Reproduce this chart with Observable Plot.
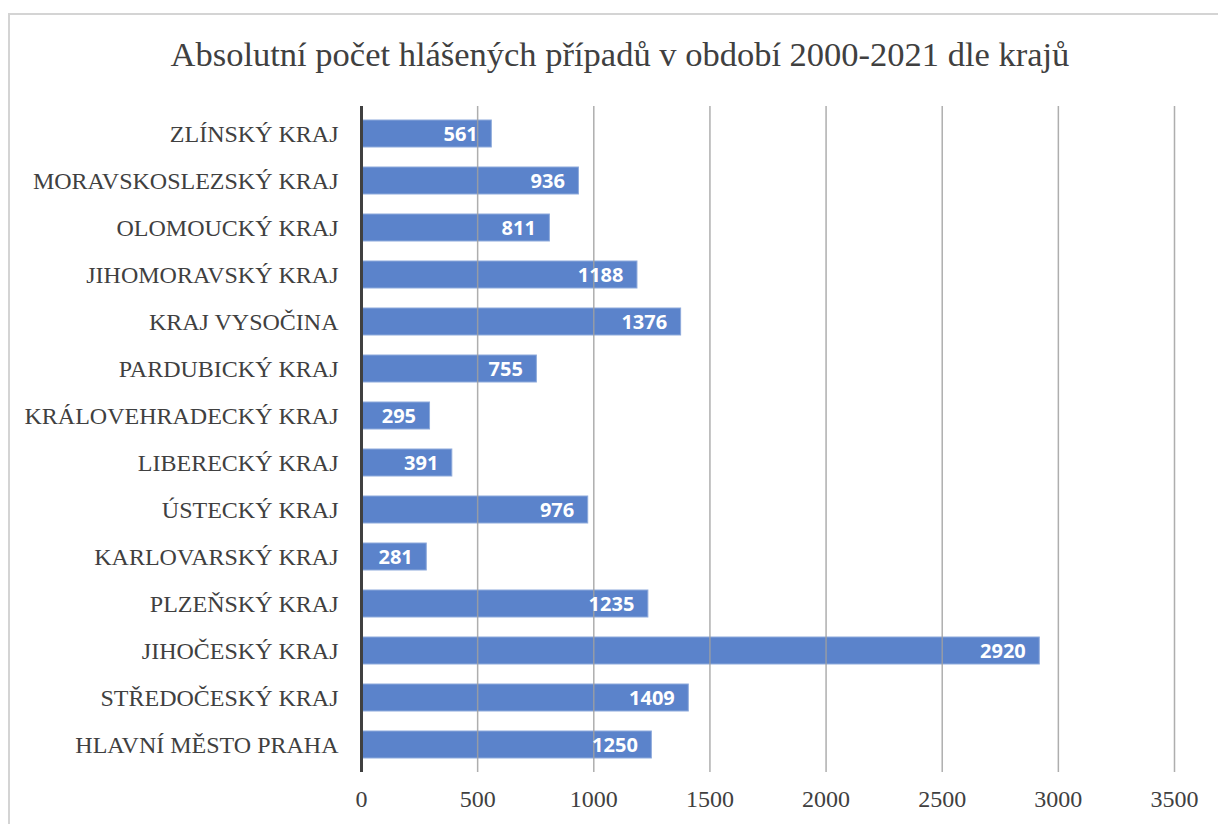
<!DOCTYPE html>
<html>
<head>
<meta charset="utf-8">
<script src="https://cdn.jsdelivr.net/npm/d3@7"></script>
<script src="https://cdn.jsdelivr.net/npm/@observablehq/plot@0.6"></script>
<style>
  html, body { margin: 0; padding: 0; background: #fff; }
  #wrap { position: relative; width: 1218px; height: 824px; overflow: hidden; }
  #frame { position: absolute; left: 8px; top: 13px; width: 1230px; height: 830px;
           border-left: 2px solid #d4d4d4; border-top: 2px solid #d4d4d4; box-sizing: border-box; }
  #title { position: absolute; left: 0; width: 1240px; top: 35px; text-align: center;
           font-family: "Liberation Serif", serif; font-size: 34.5px; color: #404040; }
  #chart { position: absolute; left: 0; top: 0; }
</style>
</head>
<body>
<div id="wrap">
  <div id="frame"></div>
  <div id="chart"></div>
  <div id="title">Absolutní počet hlášených případů v období 2000-2021 dle krajů</div>
</div>
<script>
const regions = [
  "ZLÍNSKÝ KRAJ",
  "MORAVSKOSLEZSKÝ KRAJ",
  "OLOMOUCKÝ KRAJ",
  "JIHOMORAVSKÝ KRAJ",
  "KRAJ VYSOČINA",
  "PARDUBICKÝ KRAJ",
  "KRÁLOVEHRADECKÝ KRAJ",
  "LIBERECKÝ KRAJ",
  "ÚSTECKÝ KRAJ",
  "KARLOVARSKÝ KRAJ",
  "PLZEŇSKÝ KRAJ",
  "JIHOČESKÝ KRAJ",
  "STŘEDOČESKÝ KRAJ",
  "HLAVNÍ MĚSTO PRAHA"
];
const cases = [561, 936, 811, 1188, 1376, 755, 295, 391, 976, 281, 1235, 2920, 1409, 1250];
const xTicks = [0, 500, 1000, 1500, 2000, 2500, 3000, 3500];

const data = regions.map((r, i) => ({region: r, value: cases[i]}));

const chart = Plot.plot({
  width: 1218,
  height: 824,
  marginLeft: 361,
  marginRight: 44,
  marginTop: 106,
  marginBottom: 52,
  style: {fontFamily: "'Liberation Serif', serif", color: "#404040", background: "transparent"},
  x: {domain: [0, 3500], ticks: xTicks, label: null},
  y: {domain: regions, paddingInner: 0.42, paddingOuter: 0.21, label: null},
  marks: [
    Plot.barX(data, {x: "value", y: "region", fill: "#4472C4", fillOpacity: 0.88, stroke: "#8eaadb", strokeWidth: 1}),
    Plot.gridX(xTicks.filter(d => d > 0), {stroke: "#a0a0a0", strokeOpacity: 0.85, strokeWidth: 1.5}),
    Plot.ruleX([0], {stroke: "#404040", strokeWidth: 3}),
    Plot.text(data, {x: "value", y: "region", text: d => String(d.value), textAnchor: "end", dx: -14, dy: 1,
      fill: "white", fontWeight: "bold", fontFamily: "'Open Sans', sans-serif", fontSize: 20}),
    Plot.axisX({ticks: xTicks, tickSize: 0, tickPadding: 17, fontSize: 24, tickFormat: d => String(d), label: null}),
    Plot.axisY({tickSize: 0, tickPadding: 23, fontSize: 24, label: null})
  ]
});
document.getElementById("chart").appendChild(chart);
</script>
</body>
</html>
